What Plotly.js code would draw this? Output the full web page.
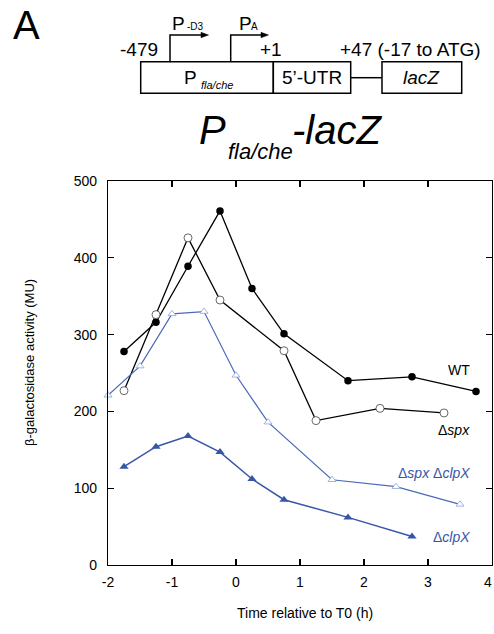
<!DOCTYPE html>
<html>
<head>
<meta charset="utf-8">
<script src="https://cdn.plot.ly/plotly-3.0.1.min.js"></script>
<style>html,body{margin:0;padding:0;background:#fff;}#chart{width:494px;height:634px;}</style>
</head>
<body>
<div id="chart"></div>
<script>
// ---- data ----
const wtTime = [-1.75, -1.25, -0.75, -0.25, 0.25, 0.75, 1.75, 2.75, 3.75];
const wtMU   = [278, 316, 389, 461, 360, 301, 240, 245, 226];

const spxTime = [-1.75, -1.25, -0.75, -0.25, 0.75, 1.25, 2.25, 3.25];
const spxMU   = [227, 326, 426, 345, 279, 188, 204, 198];

const spxClpxTime = [-2, -1.5, -1, -0.5, 0, 0.5, 1.5, 2.5, 3.5];
const spxClpxMU   = [221, 259, 327, 330, 247, 186, 111, 102, 79];

const clpxTime = [-1.75, -1.25, -0.75, -0.25, 0.25, 0.75, 1.75, 2.75];
const clpxMU   = [128, 154, 168, 147, 112, 85, 62, 37];

const xTicks = [-2, -1, 0, 1, 2, 3, 4];
const yTicks = [0, 100, 200, 300, 400, 500];

// ---- layout helpers (pixel -> paper) ----
const L = 108, R = 492, T = 181, B = 565;
const px = x => (x - L) / (R - L);
const py = y => (B - y) / (B - T);
const FONT = 'Liberation Sans, Arial, sans-serif';
const BLUE = '#3656a8';
const BLUE2 = '#4a69b8';
const BLUE_LIGHT = '#8fa3d2';

const traces = [
  {x: wtTime, y: wtMU, mode: 'lines+markers', name: 'WT',
   line: {color: '#000', width: 1.3},
   marker: {symbol: 'circle', size: 7.5, color: '#000'}, cliponaxis: false},
  {x: spxTime, y: spxMU, mode: 'lines+markers', name: 'Δspx',
   line: {color: '#000', width: 1.3},
   marker: {symbol: 'circle', size: 8, color: '#fff', line: {color: '#444', width: 0.8}}, cliponaxis: false},
  {x: spxClpxTime, y: spxClpxMU, mode: 'lines+markers', name: 'Δspx ΔclpX',
   line: {color: BLUE2, width: 1.2},
   marker: {symbol: 'triangle-up', size: 7, color: '#fff', line: {color: BLUE_LIGHT, width: 0.8}}, cliponaxis: false},
  {x: clpxTime, y: clpxMU, mode: 'lines+markers', name: 'ΔclpX',
   line: {color: BLUE, width: 1.5},
   marker: {symbol: 'triangle-up', size: 8, color: BLUE}, cliponaxis: false}
];

function ann(text, xpx, ypx, size, opts) {
  return Object.assign({
    text: text, xref: 'paper', yref: 'paper', x: px(xpx), y: py(ypx),
    xanchor: 'center', yanchor: 'middle', showarrow: false,
    font: {family: FONT, size: size, color: '#000'}
  }, opts || {});
}

const annotations = [
  ann('A', 26.5, 25, 40),
  ann('-479', 139, 49, 19),
  ann('+1', 271, 49, 19),
  ann('+47 (-17 to ATG)', 410, 49, 19),
  ann('P', 178.5, 24, 19),
  ann('-D3', 195, 27, 10),
  ann('P', 245, 24, 19),
  ann('A', 254.5, 27, 10),
  ann('P', 190.5, 78, 19),
  ann('<i>fla/che</i>', 216.5, 85, 11),
  ann('5\u2019-UTR', 311.7, 78, 19),
  ann('<i>lacZ</i>', 421.7, 78, 19),
  ann('<i>P</i>', 212.5, 130, 40),
  ann('<i>fla/che</i>', 260.5, 151, 22),
  ann('<i>-lacZ</i>', 336.5, 130, 40),
  // axis titles
  ann('\u03b2-galactosidase activity (MU)', 29, 363, 13, {textangle: -90}),
  ann('Time relative to T0 (h)', 305, 613, 14),
  // last x tick label, kept inside the page edge
  ann(String(xTicks[xTicks.length - 1]), 493.5, 582, 14, {xanchor: 'right'}),
  // series labels
  {text: 'WT', x: 3.69, y: 254, xref: 'x', yref: 'y', xanchor: 'right', yanchor: 'middle', showarrow: false,
   font: {family: FONT, size: 14, color: '#000'}},
  {text: '\u0394<i>spx</i>', x: 3.69, y: 176, xref: 'x', yref: 'y', xanchor: 'right', yanchor: 'middle', showarrow: false,
   font: {family: FONT, size: 14, color: '#000'}},
  {text: '\u0394<i>spx</i> \u0394<i>clpX</i>', x: 3.69, y: 120, xref: 'x', yref: 'y', xanchor: 'right', yanchor: 'middle', showarrow: false,
   font: {family: FONT, size: 14, color: BLUE}},
  {text: '\u0394<i>clpX</i>', x: 3.69, y: 36, xref: 'x', yref: 'y', xanchor: 'right', yanchor: 'middle', showarrow: false,
   font: {family: FONT, size: 14, color: BLUE}}
];

const boxTop = 61.7, boxBot = 93.3;
const lineStyle = {color: '#000', width: 1.5};
const shapes = [
  {type: 'rect', xref: 'paper', yref: 'paper', x0: px(140.7), x1: px(273.3), y0: py(boxBot), y1: py(boxTop), line: lineStyle},
  {type: 'rect', xref: 'paper', yref: 'paper', x0: px(273.3), x1: px(350.7), y0: py(boxBot), y1: py(boxTop), line: lineStyle},
  {type: 'line', xref: 'paper', yref: 'paper', x0: px(350.7), x1: px(382), y0: py(77.7), y1: py(77.7), line: lineStyle},
  {type: 'rect', xref: 'paper', yref: 'paper', x0: px(382), x1: px(461.7), y0: py(boxBot), y1: py(boxTop), line: lineStyle},
  // promoter arrows
  {type: 'path', xref: 'paper', yref: 'paper',
   path: `M ${px(170)} ${py(boxTop)} L ${px(170)} ${py(35)} L ${px(202)} ${py(35)}`, line: lineStyle},
  {type: 'path', xref: 'paper', yref: 'paper',
   path: `M ${px(201)} ${py(32.3)} L ${px(208.5)} ${py(35)} L ${px(201)} ${py(37.7)} Z`, fillcolor: '#000', line: {color: '#000', width: 0.5}},
  {type: 'path', xref: 'paper', yref: 'paper',
   path: `M ${px(230.7)} ${py(boxTop)} L ${px(230.7)} ${py(35)} L ${px(262)} ${py(35)}`, line: lineStyle},
  {type: 'path', xref: 'paper', yref: 'paper',
   path: `M ${px(261)} ${py(32.3)} L ${px(268.5)} ${py(35)} L ${px(261)} ${py(37.7)} Z`, fillcolor: '#000', line: {color: '#000', width: 0.5}}
];

const axisCommon = {
  showline: true, linecolor: '#000', linewidth: 1.2, mirror: 'ticks',
  ticks: 'inside', ticklen: 6, tickwidth: 1.2, tickcolor: '#000',
  showgrid: false, zeroline: false,
  tickfont: {family: FONT, size: 14, color: '#000'}
};

const layout = {
  width: 494, height: 634,
  margin: {l: L, r: 494 - R, t: T, b: 634 - B, pad: 0},
  paper_bgcolor: '#fff', plot_bgcolor: '#fff',
  showlegend: false,
  xaxis: Object.assign({}, axisCommon, {range: [-2, 4], tickvals: xTicks, ticktext: xTicks.map((v, i) => i === xTicks.length - 1 ? '' : String(v)), ticklabelstandoff: 4}),
  yaxis: Object.assign({}, axisCommon, {range: [0, 500], tickvals: yTicks, ticktext: yTicks.map(String), ticklabelstandoff: 7}),
  annotations: annotations,
  shapes: shapes
};

Plotly.newPlot('chart', traces, layout, {displayModeBar: false, staticPlot: true});
</script>
</body>
</html>
